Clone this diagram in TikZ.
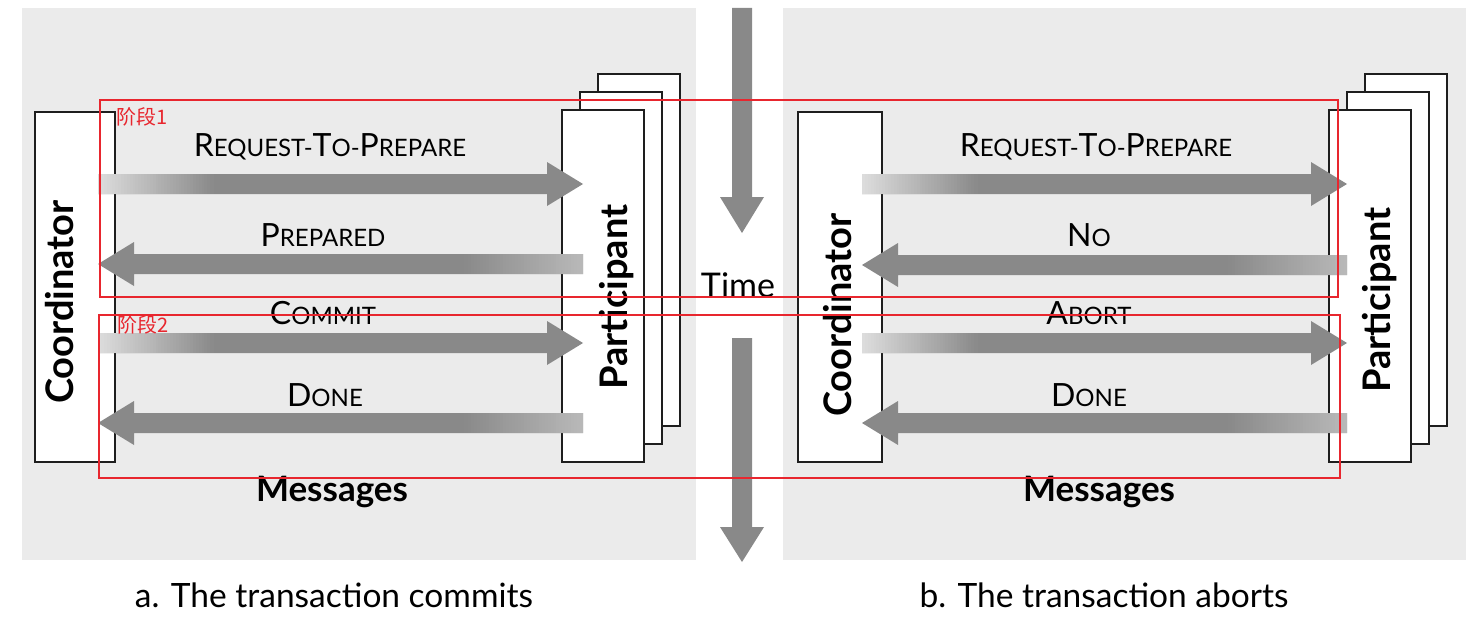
\documentclass[tikz,border=0pt]{standalone}
\usepackage{fontspec}
\setmainfont{Lato}
\newfontfamily\cjk{Noto Sans CJK SC}
\usetikzlibrary{calc}
\definecolor{panelgray}{HTML}{EBEBEB}
\definecolor{arrowgray}{HTML}{898989}
\definecolor{fadein}{HTML}{DCDCDC}
\definecolor{fadeout}{HTML}{B8B8B8}
\definecolor{boxline}{HTML}{1E1E1E}
\definecolor{phasered}{HTML}{E8262E}
\newcommand\Cap[1]{{\fontsize{32}{32}\selectfont #1}}
% gradient strip: #1 anchor coordinate, #2 direction (+1 right / -1 left), #3 length, #4 colour at anchor
\newcommand\fadestrip[4]{%
  \foreach \i in {0,...,39}{%
    \pgfmathsetmacro\pct{100-\i*2.5}%
    \fill[#4!\pct!arrowgray] ($(#1)+(#2*\i*#3/40,-10)$) rectangle ($(#1)+(#2*\i*#3/40+#2*#3/40+#2*0.6,10)$);
  }}
\newcommand\msgright[2]{%
  \fill[arrowgray] ($(#1)+(0,-10)$) -- ($(#2)+(-36,-10)$) -- ($(#2)+(-36,-22)$) -- (#2)
     -- ($(#2)+(-36,22)$) -- ($(#2)+(-36,10)$) -- ($(#1)+(0,10)$) -- cycle;
  \fadestrip{#1}{1}{115}{fadein}}
\newcommand\msgleft[2]{%
  \fill[arrowgray] ($(#1)+(0,-10)$) -- ($(#2)+(36,-10)$) -- ($(#2)+(36,-22)$) -- (#2)
     -- ($(#2)+(36,22)$) -- ($(#2)+(36,10)$) -- ($(#1)+(0,10)$) -- cycle;
  \fadestrip{#1}{-1}{118}{fadeout}}
\tikzset{
  panel/.style={fill=panelgray,draw=none},
  actor/.style={draw=boxline,line width=2.2pt,fill=white},
  msg/.style={font=\fontsize{24}{24}\selectfont,inner sep=0pt},
  actorlabel/.style={font=\fontsize{38}{38}\selectfont\bfseries,rotate=90,inner sep=0pt},
  heading/.style={font=\fontsize{35}{35}\selectfont\bfseries,inner sep=0pt},
  caption/.style={font=\fontsize{33.5}{33.5}\selectfont,inner sep=0pt},
  timelabel/.style={font=\fontsize{34}{34}\selectfont,inner sep=0pt},
  phase/.style={draw=phasered,line width=1.4pt},
  phaselabel/.style={text=phasered,font=\cjk\fontsize{20}{20}\selectfont,inner sep=0pt,anchor=west},
  timearrow/.style={fill=arrowgray,draw=none}
}
\begin{document}
\begin{tikzpicture}[x=1pt,y=-1pt]
\useasboundingbox (0,0) rectangle (1478,634);
\fill[white] (0,0) rectangle (1478,634);
% panels
\fill[panel] (22,8) rectangle (696,560);
\fill[panel] (783,8) rectangle (1466,560);

% ---- left panel ----
\draw[actor] (35,112) rectangle (115,462);
\node[actorlabel] (coordA) at (60,302) {Coordinator};
\draw[actor] (598,74) rectangle (680,426);
\draw[actor] (580,92) rectangle (662,444);
\draw[actor] (562,110) rectangle (644,462);
\node[actorlabel] (partA) at (617,297) {Participant};

\coordinate (a1s) at (98,184);  \coordinate (a1t) at (583,184);
\coordinate (a2s) at (583,264); \coordinate (a2t) at (98,264);
\coordinate (a3s) at (98,343);  \coordinate (a3t) at (583,343);
\coordinate (a4s) at (583,423); \coordinate (a4t) at (98,423);
\msgright{a1s}{a1t}
\msgleft{a2s}{a2t}
\msgright{a3s}{a3t}
\msgleft{a4s}{a4t}
\node[msg] (la1) at (330,147) {\Cap{R}EQUEST-\Cap{T}O-\Cap{P}REPARE};
\node[msg] (la2) at (323,235) {\Cap{P}REPARED};
\node[msg] (la3) at (323,313) {\Cap{C}OMMIT};
\node[msg] (la4) at (325,395) {\Cap{D}ONE};
\node[heading] (msgA) at (332,492) {Messages};
\node[caption] (capA) at (334,595) {a. The transaction commits};

% ---- right panel ----
\draw[actor] (798,112) rectangle (882,462);
\node[actorlabel] (coordB) at (838,315) {Coordinator};
\draw[actor] (1365,74) rectangle (1447,426);
\draw[actor] (1347,92) rectangle (1429,444);
\draw[actor] (1329,110) rectangle (1411,462);
\node[actorlabel] (partB) at (1380,300) {Participant};

\coordinate (b1s) at (862,184);  \coordinate (b1t) at (1347,184);
\coordinate (b2s) at (1347,265); \coordinate (b2t) at (862,265);
\coordinate (b3s) at (862,343);  \coordinate (b3t) at (1347,343);
\coordinate (b4s) at (1347,423); \coordinate (b4t) at (862,423);
\msgright{b1s}{b1t}
\msgleft{b2s}{b2t}
\msgright{b3s}{b3t}
\msgleft{b4s}{b4t}
\node[msg] (lb1) at (1096,147) {\Cap{R}EQUEST-\Cap{T}O-\Cap{P}REPARE};
\node[msg] (lb2) at (1089,235) {\Cap{N}O};
\node[msg] (lb3) at (1089,313) {\Cap{A}BORT};
\node[msg] (lb4) at (1089,395) {\Cap{D}ONE};
\node[heading] (msgB) at (1099,492) {Messages};
\node[caption] (capB) at (1104,595) {b. The transaction aborts};

% ---- time ----
\fill[timearrow] (732,8) -- (752,8) -- (752,197) -- (764,197) -- (742,233) -- (720,197) -- (732,197) -- cycle;
\fill[timearrow] (732,338) -- (752,338) -- (752,527) -- (764,527) -- (742,562) -- (720,527) -- (732,527) -- cycle;
\node[timelabel] (time) at (738,285) {Time};

% ---- phases ----
\draw[phase] (100,100) rectangle (1338,297);
\draw[phase] (99,315) rectangle (1340,478);
\node[phaselabel] (p1) at (116,117) {阶段1};
\node[phaselabel] (p2) at (117,325) {阶段2};
\end{tikzpicture}
\end{document}
